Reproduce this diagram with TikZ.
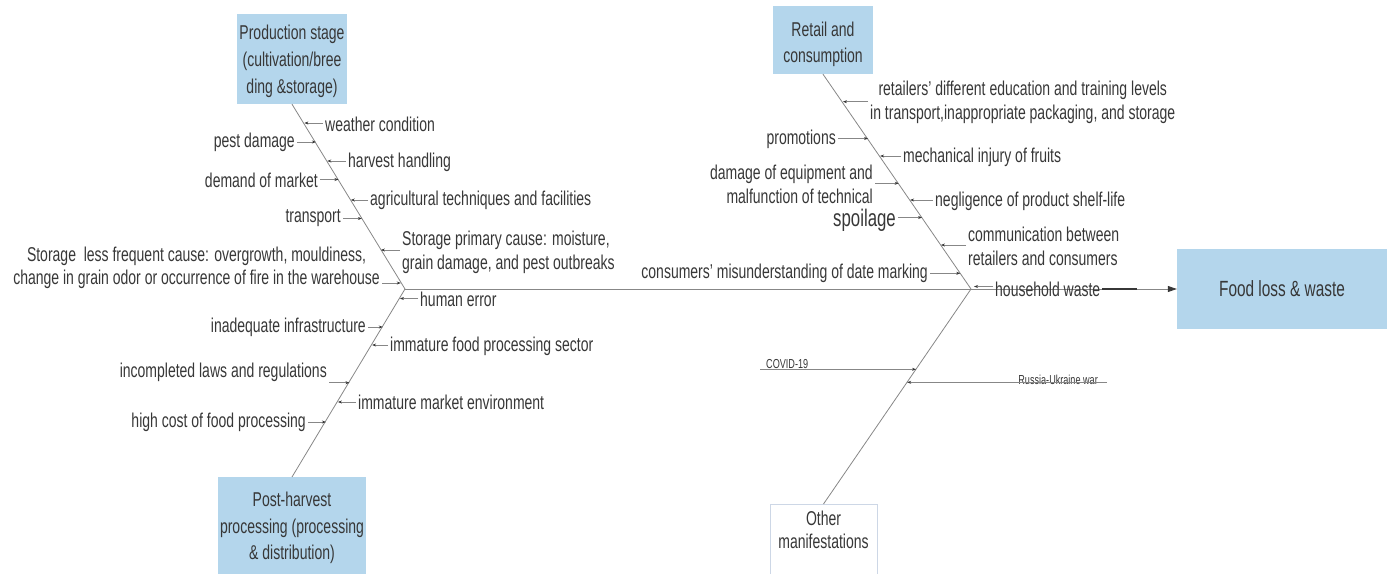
\documentclass[tikz,border=0pt]{standalone}
\usepackage{fontspec}
\setmainfont{Liberation Sans}[FakeStretch=0.70]
\usetikzlibrary{arrows.meta,calc}
\definecolor{boxblue}{RGB}{180,214,236}
\definecolor{txt}{RGB}{55,55,55}
\definecolor{bonegray}{RGB}{135,135,135}
\definecolor{otherborder}{RGB}{205,215,230}
\begin{document}
\begin{tikzpicture}[x=1pt,y=-1pt,
  lbl/.style={font=\fontsize{20}{24}\selectfont, text=txt, inner sep=2pt},
  small/.style={font=\fontsize{13}{15}\selectfont, text=txt, inner sep=0pt},
  bigbox/.style={fill=boxblue, text=txt, align=center, font=\fontsize{20}{26.5}\selectfont, inner sep=0pt},
  bone/.style={draw=bonegray, line width=0.8pt},
  rib/.style={draw=bonegray, line width=0.7pt, -{Stealth[length=4pt,width=3pt,color=txt]}},
]
\useasboundingbox (0,0) rectangle (1391,573);

% heads and boxes
\node[bigbox, font=\fontsize{20}{27}\selectfont, minimum width=110pt, minimum height=90pt] (prod) at (292,59) {\rule{0pt}{18.5pt}Production stage\\(cultivation/bree\\ding \&storage)};
\node[bigbox, minimum width=148pt, minimum height=99pt, anchor=north] (post) at (292,477) {\rule{0pt}{17pt}Post-harvest\\processing (processing\\\& distribution)};
\node[bigbox, minimum width=100pt, minimum height=68pt] (retail) at (823,40) {\rule{0pt}{23pt}Retail and\\consumption};
\node[draw=otherborder, fill=white, line width=0.6pt, text=txt, align=center, font=\fontsize{20}{23}\selectfont, inner sep=0pt, minimum width=107pt, minimum height=80pt, anchor=north] (other) at (823.5,504) {Other\\manifestations\\\strut};
\node[bigbox, font=\fontsize{22}{26}\selectfont, minimum width=210pt, minimum height=80pt] (food) at (1282,289) {Food loss \& waste};

% junctions
\coordinate (J1) at (405,289);
\coordinate (J2) at (971,289);

% bones
\draw[bone] (prod.south) -- (J1);
\draw[bone] (post.north) -- (J1);
\draw[bone] (retail.south) -- (J2);
\draw[bone] (other.north) -- (J2);
\draw[bone, -{Triangle[length=9pt,width=6pt,color=txt]}] (J1) -- (food.west);

% points on bones
\coordinate (b1) at (304.4,123);
\coordinate (b2) at (315.9,142);
\coordinate (b3) at (327.3,161);
\coordinate (b4) at (338.5,179.5);
\coordinate (b5) at (350.8,200);
\coordinate (b6) at (361.9,218.5);
\coordinate (b7) at (380.9,250);
\coordinate (b8) at (400.8,283);
\coordinate (b9) at (399.9,298.5);
\coordinate (b10) at (382.8,327);
\coordinate (b11) at (372.1,345);
\coordinate (b12) at (349.5,382.7);
\coordinate (b13) at (337.9,402);
\coordinate (b14) at (325.9,422);
\coordinate (b15) at (842.9,101.7);
\coordinate (b16) at (868.1,138.5);
\coordinate (b17) at (880.1,156);
\coordinate (b18) at (898.7,183.3);
\coordinate (b19) at (910.1,200);
\coordinate (b20) at (922.1,217.5);
\coordinate (b21) at (940.9,245);
\coordinate (b22) at (960.3,273.3);
\coordinate (b23) at (974,286.5);
\coordinate (b24) at (916.1,369.3);
\coordinate (b25) at (907.2,382.3);
\coordinate (s24) at (760,369.3);
\coordinate (s25) at (1107,382.3);
\coordinate (dk) at (1137,289);

% left upper labels
\node[lbl, anchor=west] (t1) at (323,124) {weather condition};
\node[lbl, anchor=east] (t2) at (297,142) {pest damage};
\node[lbl, anchor=west] (t3) at (346,162) {harvest handling};
\node[lbl, anchor=east] (t4) at (320,180) {demand of market};
\node[lbl, anchor=west] (t5) at (368,200) {agricultural techniques and facilities};
\node[lbl, anchor=east] (t6) at (343,218.5) {transport};
\node[lbl, anchor=west, align=left] (t7) at (400,252) {Storage primary cause: moisture,\\grain damage, and pest outbreaks};
\node[lbl, anchor=east, align=center, font=\fontsize{20}{22.5}\selectfont] (t8) at (382,268) {Storage\ \ less frequent cause: overgrowth, mouldiness,\\change in grain odor or occurrence of fire in the warehouse};
% left lower labels
\node[lbl, anchor=west] (t9) at (418,299) {human error};
\node[lbl, anchor=east] (t10) at (368,327) {inadequate infrastructure};
\node[lbl, anchor=west] (t11) at (388,346) {immature food processing sector};
\node[lbl, anchor=east] (t12) at (329,372) {incompleted laws and regulations};
\node[lbl, anchor=west] (t13) at (356,402) {immature market environment};
\node[lbl, anchor=east] (t14) at (308,422) {high cost of food processing};
% right upper labels
\node[lbl, anchor=west, align=center] (t15) at (868,102.5) {retailers’ different education and training levels\\in transport,inappropriate packaging, and storage};
\node[lbl, anchor=east] (t16) at (838,139) {promotions};
\node[lbl, anchor=west] (t17) at (901,157) {mechanical injury of fruits};
\node[lbl, anchor=east, align=right] (t18) at (875,184) {damage of equipment and\\malfunction of technical};
\node[lbl, anchor=west] (t19) at (933,201) {negligence of product shelf-life};
\node[lbl, anchor=east, font=\fontsize{24}{28}\selectfont] (t20) at (898,220.5) {spoilage};
\node[lbl, anchor=west, align=left] (t21) at (966,246.5) {communication between\\retailers and consumers};
\node[lbl, anchor=east] (t22) at (930,273.5) {consumers’ misunderstanding of date marking};
\node[lbl, anchor=west] (t23) at (993,289) {household waste};
% right lower labels
\node[small, anchor=base west] (t24) at (766,368.5) {COVID-19};
\node[small, anchor=base east] (t25) at (1098,384.5) {Russia-Ukraine war};

% ribs
\draw[rib] (t1.west |- b1) -- (b1);
\draw[rib] (t2.east |- b2) -- (b2);
\draw[rib] (t3.west |- b3) -- (b3);
\draw[rib] (t4.east |- b4) -- (b4);
\draw[rib] (t5.west |- b5) -- (b5);
\draw[rib] (t6.east |- b6) -- (b6);
\draw[rib] (t7.west |- b7) -- (b7);
\draw[rib] (t8.east |- b8) -- (b8);
\draw[rib] (t9.west |- b9) -- (b9);
\draw[rib] (t10.east |- b10) -- (b10);
\draw[rib] (t11.west |- b11) -- (b11);
\draw[rib] (t12.east |- b12) -- (b12);
\draw[rib] (t13.west |- b13) -- (b13);
\draw[rib] (t14.east |- b14) -- (b14);
\draw[rib] (t15.west |- b15) -- (b15);
\draw[rib] (t16.east |- b16) -- (b16);
\draw[rib] (t17.west |- b17) -- (b17);
\draw[rib] (t18.east |- b18) -- (b18);
\draw[rib] (t19.west |- b19) -- (b19);
\draw[rib] (t20.east |- b20) -- (b20);
\draw[rib] (t21.west |- b21) -- (b21);
\draw[rib] (t22.east |- b22) -- (b22);
\draw[rib] (t23.west |- b23) -- (b23);
\draw[rib] (s24) -- (b24);
\draw[rib] (s25) -- (b25);
\draw[draw=txt, line width=1.2pt] (t23.east |- dk) -- (dk);
\end{tikzpicture}
\end{document}
